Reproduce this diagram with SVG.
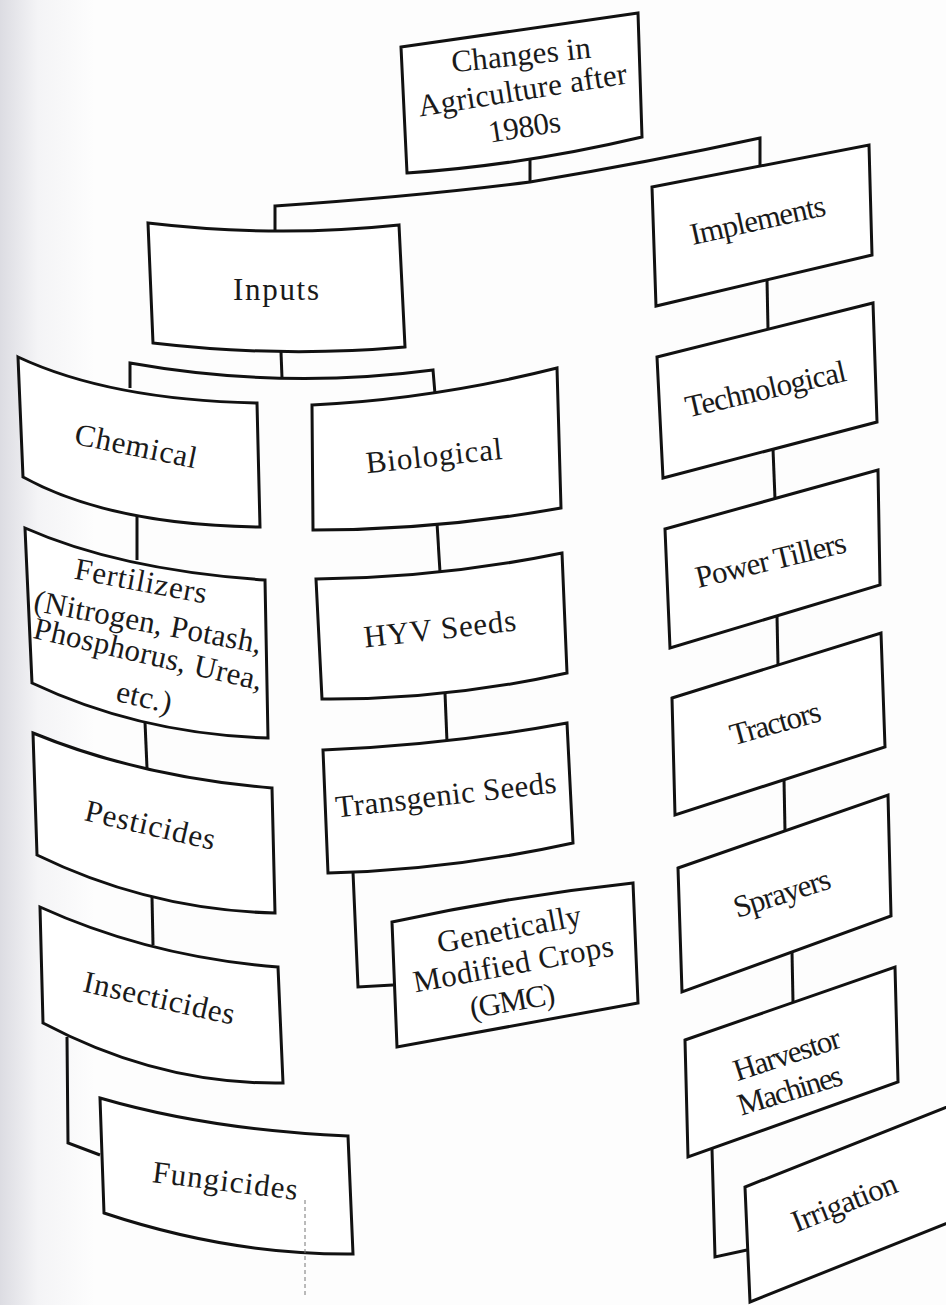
<svg xmlns="http://www.w3.org/2000/svg" width="946" height="1305" viewBox="0 0 946 1305">
<style>
.box{fill:#fff;stroke:#111;stroke-width:3;stroke-linejoin:miter}
.con{fill:none;stroke:#111;stroke-width:3}
.t{font-family:"Liberation Serif","Times New Roman",serif;font-size:31px;fill:#1a1a1a;text-anchor:middle}
</style>
<defs>
<linearGradient id="paper" x1="0" y1="0" x2="1" y2="0">
<stop offset="0" stop-color="#dcdce2"/>
<stop offset="0.04" stop-color="#f4f4f6"/>
<stop offset="0.1" stop-color="#fdfdfd"/>
<stop offset="1" stop-color="#fdfdfd"/>
</linearGradient>
</defs>
<rect x="0" y="0" width="946" height="1305" fill="url(#paper)"/>

<g id="connectors">
<path class="con" d="M530,160 L530,182"/>
<path class="con" d="M275,232 L275,206 Q420,196 530,182 Q650,162 760,138 L760,165"/>
<path class="con" d="M281,352 L282,378"/>
<path class="con" d="M130,388 L130,363 Q282,390 433,370 L435,394"/>
<path class="con" d="M437,523 L440,572"/>
<path class="con" d="M445,693 L447,742"/>
<path class="con" d="M353,872 L358,987 L393,985"/>
<path class="con" d="M767,280 L768,329"/>
<path class="con" d="M773,449 L775,499"/>
<path class="con" d="M777,616 L778,665"/>
<path class="con" d="M784,780 L785,831"/>
<path class="con" d="M792,952 L793,1002"/>
<path class="con" d="M712,1149 L715,1257 L747,1250"/>
<path class="con" d="M137,513 L137,560"/>
<path class="con" d="M145,722 L147,768"/>
<path class="con" d="M152,897 L153,945"/>
<path class="con" d="M67,1037 L68,1143 L100,1155"/>
</g>

<g id="n-root">
<path class="box" d="M401,47 L638,13 L642,137 Q524,165 407,173 Z"/>
<text class="t" transform="translate(522,65) rotate(-6)" textLength="140" lengthAdjust="spacing">Changes in</text>
<text class="t" transform="translate(524,100) rotate(-9)" textLength="211" lengthAdjust="spacing">Agriculture after</text>
<text class="t" transform="translate(526,137) rotate(-9)" textLength="73" lengthAdjust="spacing">1980s</text>
</g>

<g id="n-inputs">
<path class="box" d="M148,223 Q275,238 399,225 L405,347 Q280,358 153,343 Z"/>
<text class="t" x="276" y="300" textLength="86" lengthAdjust="spacing">Inputs</text>
</g>

<g id="n-implements">
<path class="box" d="M652,187 L869,145 L872,255 L656,306 Z"/>
<text class="t" transform="translate(760,230) rotate(-12.5)" textLength="138" lengthAdjust="spacing">Implements</text>
</g>

<g id="n-chemical">
<path class="box" d="M18,357 Q110,400 257,403 L260,527 Q110,525 23,477 Z"/>
<text class="t" transform="translate(134,456) rotate(11.5)" textLength="124" lengthAdjust="spacing">Chemical</text>
</g>

<g id="n-biological">
<path class="box" d="M312,405 Q434,399 557,368 L561,508 Q437,530 313,530 Z"/>
<text class="t" transform="translate(435,466) rotate(-6)" textLength="137" lengthAdjust="spacing">Biological</text>
</g>

<g id="n-technological">
<path class="box" d="M657,357 L873,303 L877,422 L663,478 Z"/>
<text class="t" transform="translate(768,399) rotate(-13)" textLength="164" lengthAdjust="spacing">Technological</text>
</g>

<g id="n-fertilizers">
<path class="box" d="M25,528 Q120,570 265,580 L268,738 Q140,734 32,683 Z"/>
<text class="t" transform="translate(139,591) rotate(10.7)" textLength="134" lengthAdjust="spacing">Fertilizers</text>
<text class="t" transform="translate(146,632) rotate(10.7)" textLength="231" lengthAdjust="spacing">(Nitrogen, Potash,</text>
<text class="t" transform="translate(146,664) rotate(13)" textLength="234" lengthAdjust="spacing">Phosphorus, Urea,</text>
<text class="t" transform="translate(142,707) rotate(13)" textLength="56" lengthAdjust="spacing">etc.)</text>
</g>

<g id="n-hyv">
<path class="box" d="M316,579 Q440,578 562,553 L567,673 Q445,700 322,699 Z"/>
<text class="t" transform="translate(441,639) rotate(-6.4)" textLength="153" lengthAdjust="spacing">HYV Seeds</text>
</g>

<g id="n-powertillers">
<path class="box" d="M665,529 L878,470 L880,585 L670,648 Z"/>
<text class="t" transform="translate(773,570) rotate(-13.5)" textLength="154" lengthAdjust="spacing">Power Tillers</text>
</g>

<g id="n-tractors">
<path class="box" d="M672,698 L881,633 L885,747 L675,815 Z"/>
<text class="t" transform="translate(778,733) rotate(-15.5)" textLength="93" lengthAdjust="spacing">Tractors</text>
</g>

<g id="n-transgenic">
<path class="box" d="M323,750 Q447,745 567,723 L573,843 Q450,870 328,873 Z"/>
<text class="t" transform="translate(447,805) rotate(-6.5)" textLength="222" lengthAdjust="spacing">Transgenic Seeds</text>
</g>

<g id="n-pesticides">
<path class="box" d="M33,733 Q140,777 272,788 L275,913 Q150,910 37,855 Z"/>
<text class="t" transform="translate(148,835) rotate(13)" textLength="133" lengthAdjust="spacing">Pesticides</text>
</g>

<g id="n-sprayers">
<path class="box" d="M678,868 L888,795 L891,916 L682,992 Z"/>
<text class="t" transform="translate(785,903) rotate(-17.5)" textLength="100" lengthAdjust="spacing">Sprayers</text>
</g>

<g id="n-gmc">
<path class="box" d="M392,922 Q512,896 633,883 L638,1003 L397,1047 Z"/>
<text class="t" transform="translate(511,939) rotate(-11)" textLength="146" lengthAdjust="spacing">Genetically</text>
<text class="t" transform="translate(515,974) rotate(-10.5)" textLength="203" lengthAdjust="spacing">Modified Crops</text>
<text class="t" transform="translate(514,1011) rotate(-10)" textLength="86" lengthAdjust="spacing">(GMC)</text>
</g>

<g id="n-insecticides">
<path class="box" d="M40,907 Q150,957 278,967 L283,1083 Q160,1085 43,1023 Z"/>
<text class="t" transform="translate(157,1008) rotate(12.5)" textLength="154" lengthAdjust="spacing">Insecticides</text>
</g>

<g id="n-harvestor">
<path class="box" d="M685,1040 L895,967 L898,1082 L688,1157 Z"/>
<text class="t" transform="translate(790,1064) rotate(-18)" textLength="111" lengthAdjust="spacing">Harvestor</text>
<text class="t" transform="translate(793,1100) rotate(-17)" textLength="108" lengthAdjust="spacing">Machines</text>
</g>

<g id="n-fungicides">
<path class="box" d="M100,1098 Q210,1130 348,1136 L353,1254 Q230,1255 104,1213 Z"/>
<text class="t" transform="translate(224,1191) rotate(7)" textLength="146" lengthAdjust="spacing">Fungicides</text>
</g>

<g id="n-irrigation">
<path class="box" d="M975,1096 L745,1187 L750,1302 L975,1212"/>
<text class="t" transform="translate(848,1212) rotate(-21.7)" textLength="111" lengthAdjust="spacing">Irrigation</text>
</g>

<line x1="305" y1="1200" x2="305" y2="1297" stroke="#777" stroke-width="1" stroke-dasharray="4 3"/>
</svg>
